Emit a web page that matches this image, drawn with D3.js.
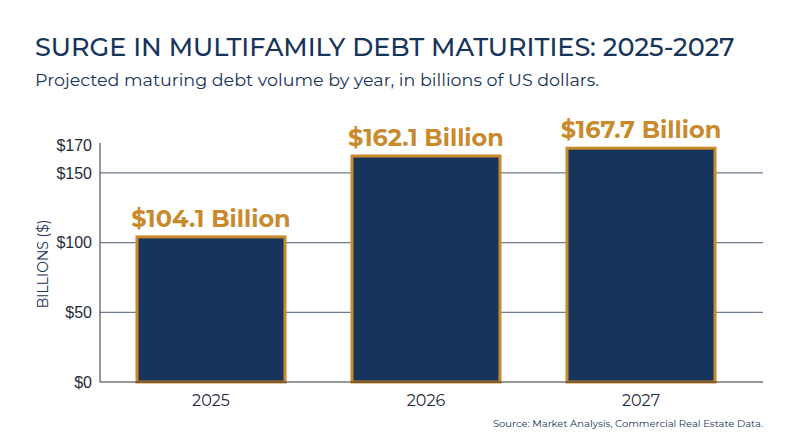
<!DOCTYPE html>
<html><head><meta charset="utf-8">
<script src="https://cdn.jsdelivr.net/npm/d3@7"></script>
<style>body{margin:0;background:#fff;font-family:Montserrat,"Open Sans",sans-serif}</style>
</head><body>
<svg id="chart" width="800" height="447"></svg>
<script>
// datos
var years = ["2025", "2026", "2027"];
var values = [104.1, 162.1, 167.7];
var tickValues = [0, 50, 100, 150, 170];

var svg = d3.select("#chart");
var navy = "#17345a", gold = "#c98a2c";

svg.append("text").attr("x", 35).attr("y", 56)
    .attr("font-size", 25.5).attr("font-weight", 500).attr("fill", navy)
    .text("SURGE IN MULTIFAMILY DEBT MATURITIES: 2025-2027");
svg.append("text").attr("x", 35).attr("y", 86)
    .attr("font-size", 17.5).attr("fill", navy)
    .text("Projected maturing debt volume by year, in billions of US dollars.");

var x = d3.scaleBand().domain(years).range([100, 752]).paddingInner(0.3116).paddingOuter(0.172);
var y = d3.scaleLinear().domain([0, 170]).range([382, 145]);

// rejilla
svg.selectAll(".grid").data([50, 100, 150]).enter().append("line")
    .attr("x1", 100).attr("x2", 763)
    .attr("y1", d => y(d)).attr("y2", d => y(d))
    .attr("stroke", "#6b7a8c").attr("stroke-width", 1.2);

var yAxis = svg.append("g").attr("transform", "translate(100,0)")
    .call(d3.axisLeft(y).tickValues(tickValues).tickFormat(d => "$" + d).tickSize(0).tickPadding(8));
yAxis.select(".domain").attr("stroke", "#333").attr("d", "M0," + (y(170) - 2) + "V" + y(0));
yAxis.selectAll("text").attr("font-size", 16).attr("fill", "#1f2a3a").attr("font-family", "inherit");

svg.append("text").attr("transform", "translate(48,264) rotate(-90)")
    .attr("text-anchor", "middle").attr("font-size", 14).attr("fill", navy)
    .text("BILLIONS ($)");

// barras
svg.selectAll(".bar").data(values).enter().append("rect")
    .attr("x", (d, i) => x(years[i])).attr("width", x.bandwidth())
    .attr("y", d => y(d)).attr("height", d => y(0) - y(d))
    .attr("fill", navy).attr("stroke", gold).attr("stroke-width", 3);

svg.selectAll(".lbl").data(values).enter().append("text")
    .attr("x", (d, i) => x(years[i]) + x.bandwidth() / 2)
    .attr("y", d => y(d) - 10)
    .attr("text-anchor", "middle").attr("font-size", 24).attr("font-weight", 700)
    .attr("fill", gold).text(d => "$" + d + " Billion");

// eje x
svg.append("line").attr("x1", 100).attr("x2", 763).attr("y1", y(0)).attr("y2", y(0))
    .attr("stroke", "#333").attr("stroke-width", 1.2);
svg.selectAll(".yr").data(years).enter().append("text")
    .attr("x", d => x(d) + x.bandwidth() / 2).attr("y", 406)
    .attr("text-anchor", "middle").attr("font-size", 16).attr("fill", "#1f2a3a").text(d => d);

svg.append("text").attr("x", 763).attr("y", 427).attr("text-anchor", "end")
    .attr("font-size", 10).attr("fill", navy)
    .text("Source: Market Analysis, Commercial Real Estate Data.");
</script>
</body></html>
